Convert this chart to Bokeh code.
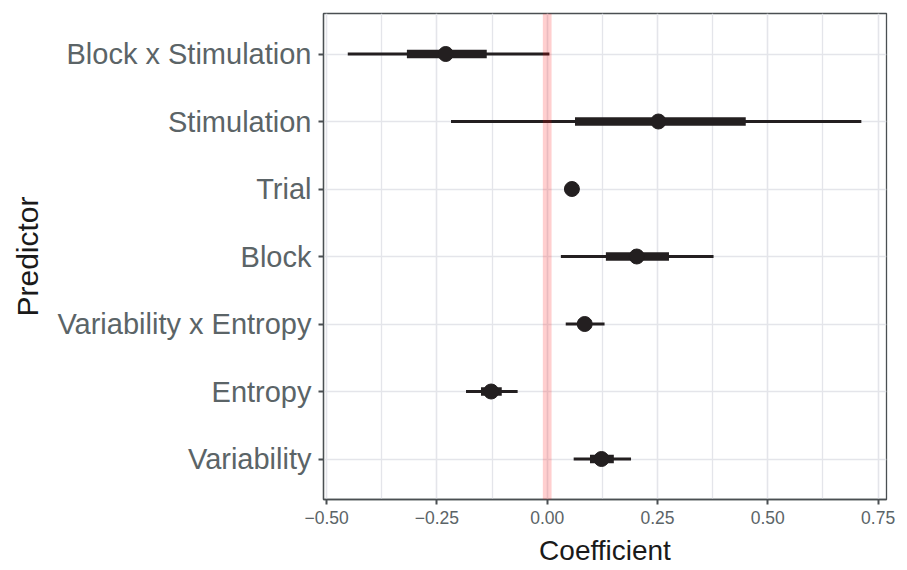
from bokeh.plotting import figure
from bokeh.models import Range1d, FactorRange, FixedTicker, BoxAnnotation, ColumnDataSource
from bokeh.embed import file_html
from bokeh.resources import INLINE

# ---- data ----
predictors = ["Variability", "Entropy", "Variability x Entropy", "Block",
              "Trial", "Stimulation", "Block x Stimulation"]
estimate   = [0.123, -0.127, 0.085, 0.203, 0.056, 0.252, -0.230]
outer_low  = [0.060, -0.184, 0.042, 0.031, 0.053, -0.218, -0.452]
outer_high = [0.190, -0.067, 0.130, 0.377, 0.059, 0.712, 0.005]
inner_low  = [0.097, -0.150, 0.070, 0.133, 0.054, 0.063, -0.318]
inner_high = [0.151, -0.103, 0.100, 0.276, 0.058, 0.450, -0.137]

x_ticks = [-0.50, -0.25, 0.00, 0.25, 0.50, 0.75]
x_tick_labels = ["\u22120.50", "\u22120.25", "0.00", "0.25", "0.50", "0.75"]
x_minor = [-0.375, -0.125, 0.125, 0.375, 0.625]
x_title = "Coefficient"
y_title = "Predictor"

FONT = "Liberation Sans"
INK = "#231f20"
GRID = "#e4e5ea"
BORDER = "#4a4f52"
LABEL = "#5b6467"

src = ColumnDataSource(dict(pred=predictors, est=estimate, olo=outer_low,
                            ohi=outer_high, ilo=inner_low, ihi=inner_high))

x_lo, x_hi = -0.507, 0.769
p = figure(width=907, height=570, output_backend="svg", toolbar_location=None,
           x_range=Range1d(x_lo, x_hi),
           y_range=FactorRange(factors=predictors, range_padding=0.1,
                               range_padding_units="absolute"),
           min_border_left=323, min_border_right=21, min_border_top=13,
           min_border_bottom=71)

p.background_fill_color = "white"
p.border_fill_color = "white"
p.outline_line_color = BORDER
p.outline_line_width = 1.3

# grids
p.xgrid.ticker = FixedTicker(ticks=x_ticks, minor_ticks=x_minor)
p.xgrid.grid_line_color = GRID
p.xgrid.grid_line_width = 1.6
p.xgrid.minor_grid_line_color = GRID
p.xgrid.minor_grid_line_width = 1.3
p.ygrid.grid_line_color = GRID
p.ygrid.grid_line_width = 1.6

# x axis
p.xaxis.ticker = FixedTicker(ticks=x_ticks)
p.xaxis.major_label_overrides = {t: l for t, l in zip(x_ticks, x_tick_labels)}

for ax in (p.xaxis[0], p.yaxis[0]):
    ax.axis_line_color = BORDER
    ax.axis_line_width = 1.3
    ax.major_tick_line_color = BORDER
    ax.major_tick_line_width = 2
    ax.major_tick_out = 5
    ax.major_tick_in = 0
    ax.minor_tick_line_color = None
    ax.major_label_text_font = FONT
    ax.major_label_text_color = LABEL
    ax.axis_label_text_font = FONT
    ax.axis_label_text_font_style = "normal"
    ax.axis_label_text_color = "#1a1a1a"

p.xaxis.axis_label = x_title
p.xaxis.axis_label_text_font_size = "28px"
p.xaxis.axis_label_text_line_height = 0.8
p.xaxis.major_label_text_font_size = "17.5px"
p.xaxis.major_label_standoff = 6
p.xaxis.axis_label_standoff = 8

p.yaxis.axis_label = y_title
p.yaxis.axis_label_text_font_size = "30px"
p.yaxis.major_label_text_font_size = "29px"
p.yaxis.major_label_standoff = 7
p.yaxis.axis_label_standoff = 10

# thin (outer) intervals
p.segment(x0="olo", x1="ohi", y0="pred", y1="pred", source=src,
          line_color=INK, line_width=3, line_cap="butt")
# thick (inner) intervals
p.segment(x0="ilo", x1="ihi", y0="pred", y1="pred", source=src,
          line_color=INK, line_width=8.5, line_cap="butt")
# point estimates
p.scatter(x="est", y="pred", source=src, marker="circle", size=15,
          fill_color=INK, line_color=INK)

# zero reference band
p.add_layout(BoxAnnotation(left=-0.0099, right=0.0099, fill_color="red",
                           fill_alpha=0.19, line_color=None))

open("out.html", "w").write(file_html(p, INLINE))
